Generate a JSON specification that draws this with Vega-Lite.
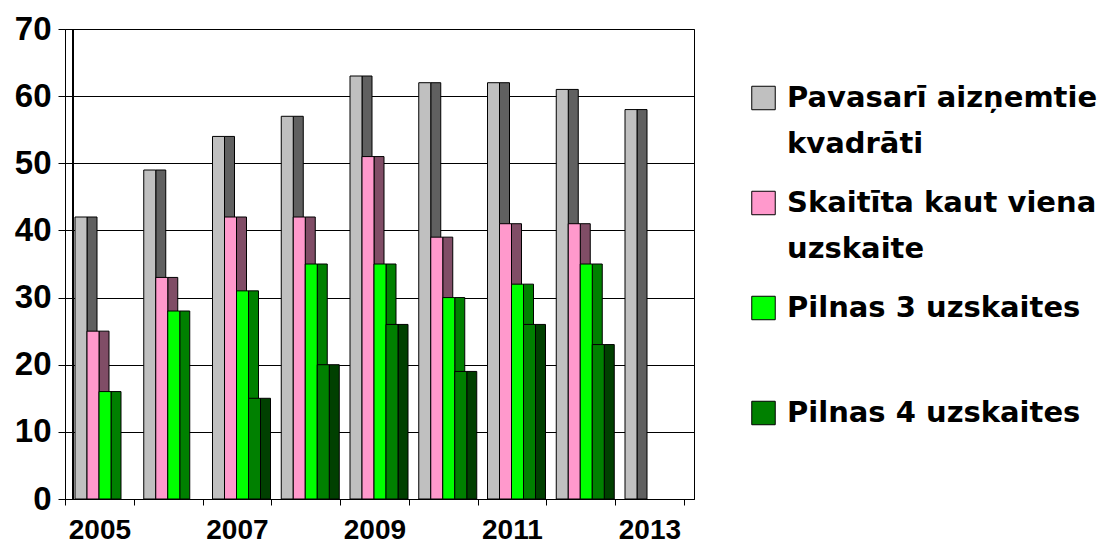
{
  "$schema": "https://vega.github.io/schema/vega-lite/v6.json",
  "width": 629,
  "height": 470,
  "autosize": "none",
  "padding": {"left": 65, "top": 29, "right": 411, "bottom": 46},
  "background": "white",
  "config": {
    "view": {"stroke": "black", "strokeWidth": 1},
    "style": {"guide-label": {"lineHeight": 46}}
  },
  "data": {
    "values": [
      {"year": "2005", "series": "Pavasarī aizņemtie kvadrāti", "value": 42},
      {"year": "2005", "series": "Skaitīta kaut viena uzskaite", "value": 25},
      {"year": "2005", "series": "Pilnas 3 uzskaites", "value": 16},
      {"year": "2006", "series": "Pavasarī aizņemtie kvadrāti", "value": 49},
      {"year": "2006", "series": "Skaitīta kaut viena uzskaite", "value": 33},
      {"year": "2006", "series": "Pilnas 3 uzskaites", "value": 28},
      {"year": "2007", "series": "Pavasarī aizņemtie kvadrāti", "value": 54},
      {"year": "2007", "series": "Skaitīta kaut viena uzskaite", "value": 42},
      {"year": "2007", "series": "Pilnas 3 uzskaites", "value": 31},
      {"year": "2007", "series": "Pilnas 4 uzskaites", "value": 15},
      {"year": "2008", "series": "Pavasarī aizņemtie kvadrāti", "value": 57},
      {"year": "2008", "series": "Skaitīta kaut viena uzskaite", "value": 42},
      {"year": "2008", "series": "Pilnas 3 uzskaites", "value": 35},
      {"year": "2008", "series": "Pilnas 4 uzskaites", "value": 20},
      {"year": "2009", "series": "Pavasarī aizņemtie kvadrāti", "value": 63},
      {"year": "2009", "series": "Skaitīta kaut viena uzskaite", "value": 51},
      {"year": "2009", "series": "Pilnas 3 uzskaites", "value": 35},
      {"year": "2009", "series": "Pilnas 4 uzskaites", "value": 26},
      {"year": "2010", "series": "Pavasarī aizņemtie kvadrāti", "value": 62},
      {"year": "2010", "series": "Skaitīta kaut viena uzskaite", "value": 39},
      {"year": "2010", "series": "Pilnas 3 uzskaites", "value": 30},
      {"year": "2010", "series": "Pilnas 4 uzskaites", "value": 19},
      {"year": "2011", "series": "Pavasarī aizņemtie kvadrāti", "value": 62},
      {"year": "2011", "series": "Skaitīta kaut viena uzskaite", "value": 41},
      {"year": "2011", "series": "Pilnas 3 uzskaites", "value": 32},
      {"year": "2011", "series": "Pilnas 4 uzskaites", "value": 26},
      {"year": "2012", "series": "Pavasarī aizņemtie kvadrāti", "value": 61},
      {"year": "2012", "series": "Skaitīta kaut viena uzskaite", "value": 41},
      {"year": "2012", "series": "Pilnas 3 uzskaites", "value": 35},
      {"year": "2012", "series": "Pilnas 4 uzskaites", "value": 23},
      {"year": "2013", "series": "Pavasarī aizņemtie kvadrāti", "value": 58}
    ]
  },
  "encoding": {
    "x": {
      "field": "year",
      "type": "ordinal",
      "scale": {"paddingInner": 0, "paddingOuter": 0.0745, "align": 0},
      "axis": {
        "title": null,
        "tickBand": "extent",
        "labelAngle": 0,
        "labelExpr": "toNumber(datum.value) % 2 == 1 ? datum.value : ''",
        "labelFont": "Liberation Sans",
        "labelFontWeight": "bold",
        "labelFontSize": 28,
        "labelColor": "black",
        "labelPadding": 11,
        "tickSize": 6,
        "tickColor": "black",
        "domainColor": "black",
        "grid": false
      }
    },
    "y": {
      "field": "value",
      "type": "quantitative",
      "scale": {"domain": [0, 70], "nice": false},
      "axis": {
        "title": null,
        "values": [0, 10, 20, 30, 40, 50, 60, 70],
        "labelFont": "Liberation Sans",
        "labelFontWeight": "bold",
        "labelFontSize": 33,
        "labelColor": "black",
        "labelPadding": 7,
        "tickSize": 7,
        "tickColor": "black",
        "domainColor": "black",
        "grid": true,
        "gridColor": "black",
        "gridOpacity": 1
      }
    }
  },
  "layer": [
    {
      "mark": {"type": "rule", "color": "black", "strokeWidth": 1, "xOffset": 8},
      "encoding": {
        "x": {"datum": "2005", "type": "ordinal", "bandPosition": 0},
        "y": {"datum": 0, "type": "quantitative"},
        "y2": {"datum": 70}
      }
    },
    {
      "mark": {"type": "bar", "stroke": "black", "strokeWidth": 1, "opacity": 1},
      "encoding": {
        "xOffset": {
          "field": "series",
          "type": "nominal",
          "scale": {
            "domain": ["Pavasarī aizņemtie kvadrāti", "Skaitīta kaut viena uzskaite", "Pilnas 3 uzskaites", "Pilnas 4 uzskaites"],
            "paddingInner": 0.1667,
            "paddingOuter": 0.948,
            "align": 0.967
          }
        },
        "color": {
          "field": "series",
          "type": "nominal",
          "scale": {
            "domain": ["Pavasarī aizņemtie kvadrāti", "Skaitīta kaut viena uzskaite", "Pilnas 3 uzskaites", "Pilnas 4 uzskaites"],
            "range": ["#606060", "#804D66", "#008000", "#004000"]
          },
          "legend": null
        }
      }
    },
    {
      "mark": {"type": "bar", "stroke": "black", "strokeWidth": 1, "opacity": 1},
      "encoding": {
        "xOffset": {
          "field": "series",
          "type": "nominal",
          "scale": {
            "domain": ["Pavasarī aizņemtie kvadrāti", "Skaitīta kaut viena uzskaite", "Pilnas 3 uzskaites", "Pilnas 4 uzskaites"],
            "paddingInner": 0,
            "paddingOuter": 0.8646,
            "align": 0.482
          }
        },
        "color": {
          "field": "series",
          "type": "nominal",
          "scale": {
            "domain": ["Pavasarī aizņemtie kvadrāti", "Skaitīta kaut viena uzskaite", "Pilnas 3 uzskaites", "Pilnas 4 uzskaites"],
            "range": ["#C0C0C0", "#FF99CC", "#00FF00", "#008000"]
          },
          "legend": {
            "title": null,
            "orient": "none",
            "legendX": 684,
            "legendY": 54.5,
            "padding": 0,
            "symbolType": "square",
            "symbolSize": 552,
            "symbolStrokeColor": "black",
            "symbolStrokeWidth": 1,
            "symbolOpacity": 1,
            "labelFont": "DejaVu Sans",
            "labelFontSize": 29,
            "labelFontWeight": "bold",
            "labelColor": "black",
            "labelOffset": 9,
            "labelLimit": 0,
            "labelBaseline": "middle",
            "rowPadding": 29,
            "labelExpr": "datum.label == 'Pavasarī aizņemtie kvadrāti' ? ['Pavasarī aizņemtie', 'kvadrāti'] : datum.label == 'Skaitīta kaut viena uzskaite' ? ['Skaitīta kaut viena', 'uzskaite'] : [datum.label, ' ']"
          }
        }
      }
    }
  ],
  "resolve": {"scale": {"color": "independent", "xOffset": "independent"}}
}
